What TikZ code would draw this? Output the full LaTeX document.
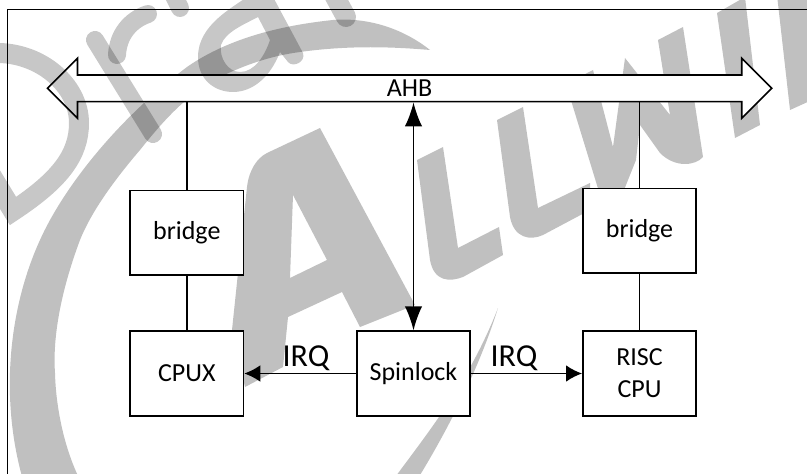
\documentclass[tikz,border=0pt]{standalone}
\usepackage{fontspec}
\setmainfont{Carlito}
\usetikzlibrary{arrows.meta,shapes.arrows}
\definecolor{logogray}{gray}{0.753}
\tikzset{
  x=0.75pt,y=-0.75pt,
  logo/.style={fill=logogray,draw=none},
  wm/.style={draw=black,opacity=0.22,line width=15pt},
  wmfill/.style={fill=black,draw=none,opacity=0.22},
  wmthin/.style={draw=black,opacity=0.22,line width=13.5pt,line cap=round},
  box/.style={draw=black,fill=white,line width=1.2pt,minimum width=85pt,minimum height=63.4pt,inner sep=0pt,font=\fontsize{19.5}{24}\selectfont,align=center},
  bus/.style={shape=double arrow,double arrow head extend=8.6pt,double arrow tip angle=90,double arrow head indent=0pt,draw=black,fill=white,line width=1.2pt,minimum height=543.15pt,minimum width=45pt,inner sep=0pt,font=\fontsize{19.5}{24}\selectfont},
  link/.style={draw=black,line width=1.2pt},
  irqarrow/.style={link,-{Latex[length=12pt,width=12.5pt]}},
  busarrow/.style={link,{Latex[length=18pt,width=13pt]}-{Latex[length=18pt,width=13pt]}},
  lab/.style={font=\fontsize{24}{28}\selectfont,inner sep=0pt,anchor=base}
}
\begin{document}
\begin{tikzpicture}
\useasboundingbox (0,0) rectangle (807,474);
% logo watermark (behind the diagram)
\fill[logo] (23,480) .. controls (0,400) and (8,310) .. (40,240) .. controls (60,195) and (110,125) .. (187,67) .. controls (230,37) and (285,25) .. (333,20) .. controls (370,17) and (405,30) .. (430,50) .. controls (395,47) and (350,45) .. (300,52) .. controls (270,56) and (245,65) .. (220,77) .. controls (185,95) and (160,125) .. (140,150) .. controls (110,185) and (90,215) .. (80,240) .. controls (65,280) and (52,330) .. (55,373) .. controls (56,410) and (65,450) .. (80,480) -- cycle;
\fill[logo] (498,308) .. controls (485,350) and (460,410) .. (417,480) -- (393,480) .. controls (430,430) and (470,380) .. cycle;
\fill[logo,even odd rule] (320,128) -- (415,305) -- (360,327) -- (342,292) -- (288,317) -- (283,367) -- (245,387) -- (232,330) -- (247,187) .. controls (249,170) and (257,158) .. (267,153) -- cycle
  (293,195) -- (327,260) -- (290,278) -- cycle;
\fill[logo] (417,160) -- (443,147) -- (458,248) -- (499,227) -- (503,255) -- (463,277) .. controls (450,282) and (434,282) .. (430,260) -- cycle;
\fill[logo] (497,120) -- (523,107) -- (538,208) -- (590,183) -- (590,210) -- (543,235) .. controls (530,241) and (514,238) .. (510,217) -- cycle;
\fill[logo] (566,84) -- (593,70) -- (613,147) -- (625,58) -- (670,115) -- (658,40) -- (683,27) -- (703,157) .. controls (695,166) and (675,168) .. (660,153) -- (640,125) -- (636,160) -- (622,195) -- (600,195) -- cycle;
\fill[logo] (717,13) -- (745,-3) -- (760,125) -- (735,138) -- cycle;
\fill[logo] (777,-5) -- (812,-5) -- (812,100) -- (790,110) -- cycle;
% frame
\draw[line width=1.2pt] (7.5,480) -- (7.5,9.5) -- (815,9.5);
% diagram
\node[bus] (ahb) at (409.6,88.3) {AHB};
\node[box,minimum height=63.3pt] (bl) at (186.8,232.6) {bridge};
\node[box,minimum height=63.3pt] (br) at (639.5,230.8) {bridge};
\node[box] (cpux) at (186.8,373.5) {CPUX};
\node[box] (spin) at (413.5,373.5) {Spinlock};
\node[box] (risc) at (639.5,373.5) {RISC\\CPU};
\draw[link] (bl.north) -- (bl.north |- ahb.south);
\draw[link] (br.north) -- (br.north |- ahb.south);
\draw[link] (bl) -- (cpux);
\draw[link] (br) -- (risc);
\draw[busarrow] (spin.north) -- (spin.north |- ahb.south);
\draw[irqarrow] (spin) -- (cpux);
\draw[irqarrow] (spin) -- (risc);
\node[lab] (irql) at (306,366) {IRQ};
\node[lab] (irqr) at (514,366) {IRQ};
% Draft watermark (on top)
\draw[wm] (-5,53) .. controls (40,52) and (79,85) .. (79,123) .. controls (79,155) and (60,180) .. (13,211) -- (-15,165);
\draw[wmthin] (95,40) -- (153,134);
\draw[wmthin] (117,55) .. controls (118,35) and (130,20) .. (148,14);
\draw[wmthin] (172,-8) -- (180,8);
\fill[wmfill,even odd rule] (250,-5) .. controls (232,8) and (198,25) .. (198,57) .. controls (198,80) and (215,92) .. (233,92) .. controls (252,92) and (270,78) .. (280,52) -- (288,62) .. controls (293,68) and (306,62) .. (303,53) -- (272,-5) -- cycle
  (258,17) .. controls (245,24) and (225,32) .. (221,45) .. controls (219,58) and (228,72) .. (240,72) .. controls (255,72) and (265,55) .. (270,40) -- cycle;
\draw[wm,line cap=round] (327,-18) -- (346,17);
\end{tikzpicture}
\end{document}
